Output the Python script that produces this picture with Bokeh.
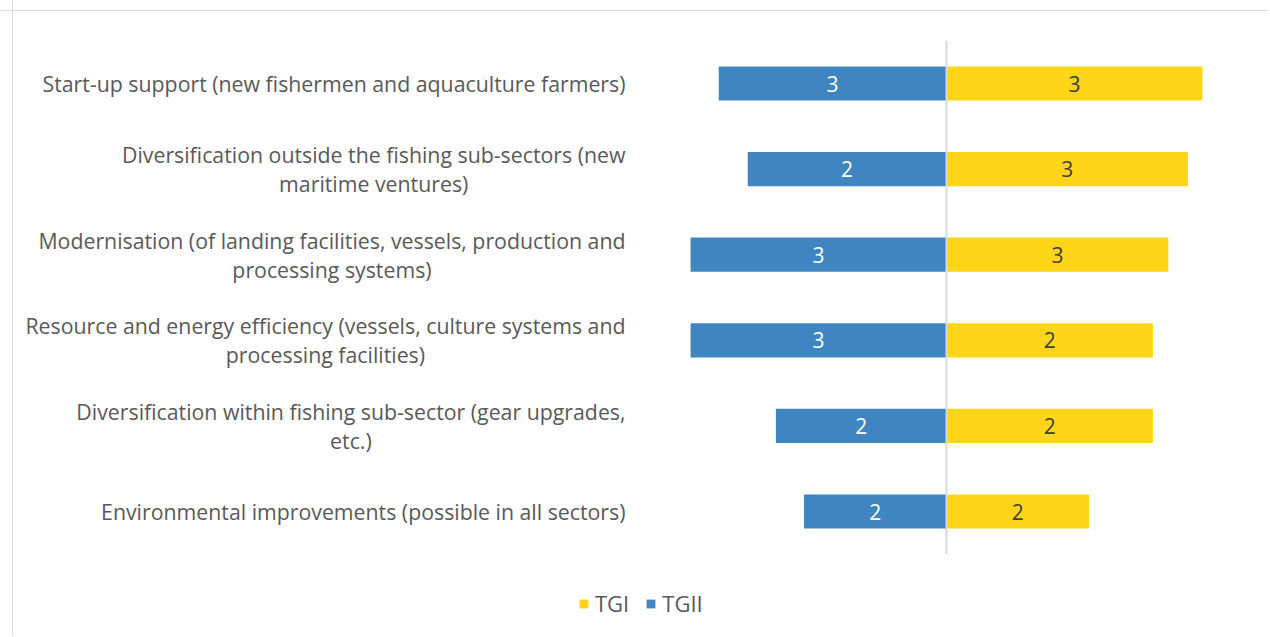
from bokeh.plotting import figure
from bokeh.models import Range1d, ColumnDataSource, Legend, LegendItem, Span
from bokeh.core.properties import value
from bokeh.embed import file_html
from bokeh.resources import INLINE

categories = [
    "Start-up support (new fishermen and aquaculture farmers)",
    "Diversification outside the fishing sub-sectors (new\nmaritime ventures)",
    "Modernisation (of landing facilities, vessels, production and\nprocessing systems)",
    "Resource and energy efficiency (vessels, culture systems and\nprocessing facilities)",
    "Diversification within fishing sub-sector (gear upgrades,\netc.)",
    "Environmental improvements (possible in all sectors)",
]
tgi = [3.0, 2.83, 2.6, 2.42, 2.42, 1.67]
tgii = [2.67, 2.33, 3.0, 3.0, 2.0, 1.67]
series_names = ["TGI", "TGII"]

BLUE = "#3F85C2"
YELLOW = "#FFD517"
FONT = "Open Sans"
FS_CAT = "21.3px"
FS = "21px"
FS_LEG = "22px"

# pixel layout (page coordinates)
PX = 85.3    # pixels per unit
X0 = 946     # page x of zero line
Y0 = 83      # page y of first category
DY = 85.6    # pixels per category
L, R, T, B = 0, 1268, 0, 635

W = R - L
H = B - T

p = figure(width=W, height=H, output_backend="svg", toolbar_location=None,
           x_range=Range1d((L - X0) / PX, (R - X0) / PX),
           y_range=Range1d((B - Y0) / DY, (T - Y0) / DY),
           min_border=0, min_border_left=0, min_border_right=0,
           min_border_top=0, min_border_bottom=0)
p.xaxis.visible = False
p.yaxis.visible = False
p.grid.visible = False
p.outline_line_color = None
p.background_fill_color = "white"
p.border_fill_color = "white"

idx = list(range(len(categories)))
src = ColumnDataSource(dict(
    y=idx, cat=categories, tgi=tgi, tgii=tgii,
    tgii_neg=[-v for v in tgii],
    tgi_mid=[v / 2 for v in tgi],
    tgii_mid=[-v / 2 for v in tgii],
    tgi_lab=[f"{v:.0f}" for v in tgi],
    tgii_lab=[f"{v:.0f}" for v in tgii],
    lab_x=[(625 - X0) / PX] * len(categories),
))

# chart border (left and top edges)
p.add_layout(Span(location=(12 - X0) / PX, dimension="height", line_color="#d9d9d9", line_width=1))
p.add_layout(Span(location=(10 - Y0) / DY, dimension="width", line_color="#d9d9d9", line_width=1))

r_tgi = p.hbar(y="y", left=0, right="tgi", height=0.40, source=src,
               fill_color=YELLOW, line_color=None)
r_tgii = p.hbar(y="y", left="tgii_neg", right=0, height=0.40, source=src,
                fill_color=BLUE, line_color=None)

# zero line
p.segment(x0=0, x1=0, y0=-0.5, y1=len(categories) - 0.5, line_color="#d9d9d9", line_width=2)

p.text(x="tgi_mid", y="y", text="tgi_lab", source=src, text_align="center",
       text_baseline="middle", text_color="#404040", text_font=value(FONT), text_font_size=FS)
p.text(x="tgii_mid", y="y", text="tgii_lab", source=src, text_align="center",
       text_baseline="middle", text_color="white", text_font=value(FONT), text_font_size=FS)

p.text(x="lab_x", y="y", text="cat", source=src, text_align="center",
       text_baseline="middle", anchor=value("center_right"), text_color="#595959",
       text_font=value(FONT), text_font_size=FS_CAT, text_line_height=1.0)

legend = Legend(items=[LegendItem(label=series_names[0], renderers=[r_tgi]),
                       LegendItem(label=series_names[1], renderers=[r_tgii])],
                orientation="horizontal", location=(578, 17),
                glyph_width=11, glyph_height=11, label_standoff=6, spacing=16,
                padding=0, margin=0, border_line_color=None, background_fill_alpha=0,
                label_text_font=FONT, label_text_font_size=FS_LEG, label_text_color="#595959")
p.add_layout(legend)

open("out.html", "w").write(file_html(p, INLINE))
